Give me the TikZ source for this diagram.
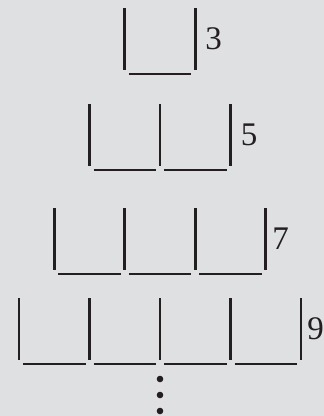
\documentclass[tikz,border=0pt]{standalone}
\usepackage{fontspec}
\setmainfont{Liberation Serif}
\usepackage{xcolor}
\usepackage{tikz}
\usetikzlibrary{positioning}
\definecolor{BGgray}{HTML}{DFE0E2}
\definecolor{CUPblack}{HTML}{231F20}

\begin{document}
\begin{tikzpicture}[x=1pt,y=-1pt,
    wall/.style={CUPblack, line width=2.8pt},
    floor/.style={CUPblack, line width=2.8pt},
    count/.style={font=\fontsize{33}{33}\selectfont, CUPblack, inner sep=0pt}]
  \useasboundingbox (0,0) rectangle (324,416);
  \fill[BGgray] (0,0) rectangle (324,416);
  % one row of cups: cups / top of walls / label x / label
  \foreach \n/\yt/\lx/\lab in {1/8/213.7/3, 2/104/249/5, 3/208/280.7/7, 4/298/315.5/9} {
    \pgfmathsetmacro{\xl}{160-35.25*\n}
    \foreach \i in {0,...,\n}
      \draw[wall] (\xl+70.5*\i, \yt) -- (\xl+70.5*\i, \yt+62);
    \foreach \i in {1,...,\n}
      \draw[floor] (\xl+70.5*\i-66.5, \yt+66) -- (\xl+70.5*\i-4, \yt+66);
    \node[count] (n\lab) at (\lx, \yt+31) {\lab};
  }
  % and so on
  \foreach \yd in {379,395,411}
    \fill[CUPblack] (160,\yd) circle (3.3pt);
\end{tikzpicture}
\end{document}
